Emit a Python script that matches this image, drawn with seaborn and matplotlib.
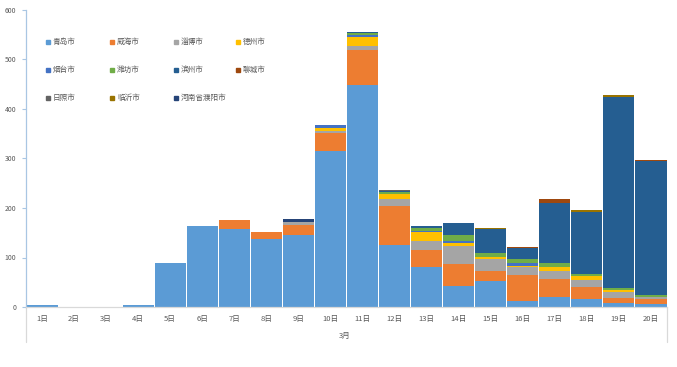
import numpy as np
import matplotlib
matplotlib.use("Agg")
import matplotlib.pyplot as plt
import seaborn as sns

# categories (March, day 1..20)
days = [f"{d}日" for d in range(1, 21)]

# cases per city, bottom to top
qingdao = [4, 0, 0, 5, 88, 163, 158, 138, 145, 316, 448, 125, 80, 42, 52, 13, 21, 16, 8, 7]
weihai = [0, 0, 0, 0, 0, 0, 17, 14, 20, 35, 71, 80, 36, 45, 20, 51, 35, 24, 11, 9]
zibo = [0, 0, 0, 0, 0, 0, 0, 0, 7, 5, 9, 14, 18, 37, 25, 16, 16, 14, 11, 5]
dezhou = [0, 0, 0, 0, 0, 0, 0, 0, 0, 5, 17, 9, 18, 6, 4, 2, 8, 9, 5, 0]
yantai = [0, 0, 0, 0, 0, 0, 0, 0, 0, 7, 4, 0, 2, 3, 0, 7, 0, 0, 0, 0]
weifang = [0, 0, 0, 0, 0, 0, 0, 0, 0, 0, 4, 4, 5, 13, 8, 8, 9, 4, 3, 4]
binzhou = [0, 0, 0, 0, 0, 0, 0, 0, 0, 0, 3, 2, 4, 24, 49, 22, 122, 124, 386, 269]
liaocheng = [0, 0, 0, 0, 0, 0, 0, 0, 0, 0, 0, 0, 0, 0, 0, 2, 8, 0, 0, 3]
rizhao = [0, 0, 0, 0, 0, 0, 0, 0, 0, 0, 0, 2, 0, 0, 0, 0, 0, 0, 0, 0]
linyi = [0, 0, 0, 0, 0, 0, 0, 0, 0, 0, 0, 0, 0, 0, 2, 0, 0, 5, 4, 0]
puyang = [0, 0, 0, 0, 0, 0, 0, 0, 6, 0, 0, 0, 0, 0, 0, 0, 0, 0, 0, 0]

cities = ["青岛市", "威海市", "淄博市", "德州市", "烟台市", "潍坊市",
          "滨州市", "聊城市", "日照市", "临沂市", "河南省濮阳市"]
series = [qingdao, weihai, zibo, dezhou, yantai, weifang,
          binzhou, liaocheng, rizhao, linyi, puyang]
colors = ["#5B9BD5", "#ED7D31", "#A5A5A5", "#FFC000", "#4472C4", "#70AD47",
          "#255E91", "#9E480E", "#636363", "#997300", "#264478"]

sns.set_style("white")
plt.rcParams["font.family"] = ["Noto Sans CJK SC", "DejaVu Sans"]

W, H = 677, 367
fig = plt.figure(figsize=(W / 100, H / 100), dpi=100)
ax = fig.add_axes([26 / W, 1 - 307 / H, 641 / W, 297 / H])

bottom = np.zeros(len(days))
for name, vals, c in zip(cities, series, colors):
    sns.barplot(x=days, y=vals, bottom=bottom, color=c, saturation=1,
                width=0.97, errorbar=None, linewidth=0, ax=ax)
    bottom = bottom + np.array(vals)

ax.set_ylim(0, 600)
ax.set_xlim(-0.5, len(days) - 0.5)
ax.set_yticks(range(0, 601, 100))
ax.set_xlabel("")
ax.set_ylabel("")

axis_blue = "#A9C6E3"
grey_line = "#D9D9D9"
for s in ["top", "right"]:
    ax.spines[s].set_visible(False)
ax.spines["left"].set_color(axis_blue)
ax.spines["left"].set_linewidth(0.9)
ax.spines["bottom"].set_color(grey_line)
ax.spines["bottom"].set_linewidth(0.9)
ax.tick_params(axis="y", length=3, width=0.8, color=axis_blue, labelsize=5,
               labelcolor="#595959", pad=4, left=True)
ax.tick_params(axis="x", length=0, labelsize=5.5, labelcolor="#595959", pad=6)

# category group separators and the month label
for xf in (0, 1):
    ax.plot([xf, xf], [0, -35 / 297], transform=ax.transAxes, color=grey_line,
            lw=0.9, clip_on=False)
fig.text(345 / W, 1 - 336 / H, "3月", ha="center", va="center",
         fontsize=5.5, color="#595959")

# legend laid out like the spreadsheet one (4 columns, equal widths)
col_x = [48, 112, 176, 238]
row_y = [42, 70, 98]
for i, (name, c) in enumerate(zip(cities, colors)):
    x = col_x[i % 4]
    y = row_y[i // 4]
    fig.lines.append(plt.Line2D([x / W], [1 - y / H], marker="s", markersize=3.4,
                                color=c, linestyle="none", transform=fig.transFigure))
    fig.text((x + 5) / W, 1 - y / H, name, ha="left", va="center",
             fontsize=5.5, color="#595959")

fig.savefig("out.png", dpi=100)
